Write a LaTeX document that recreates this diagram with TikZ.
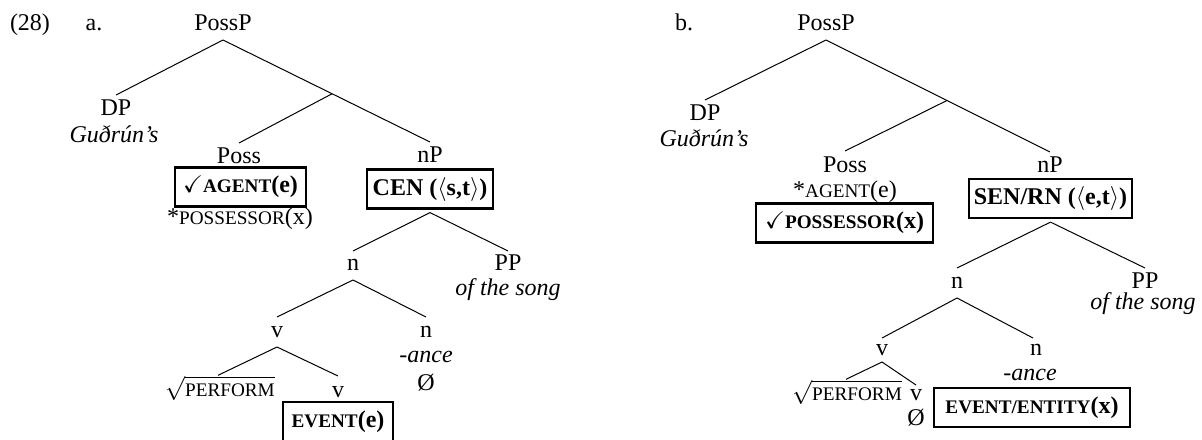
\documentclass[tikz,border=0pt]{standalone}
\usepackage{amssymb}
\usepackage{fontspec}
\setmainfont{Liberation Serif}
\newcommand\tsz{\fontsize{12pt}{14pt}\selectfont}
\newcommand\smc[1]{{\fontsize{9.6pt}{11pt}\selectfont #1}}
\begin{document}
\begin{tikzpicture}[x=0.5pt,y=-0.5pt,
  lab/.style={inner sep=0pt, anchor=base, font=\tsz},
  itlab/.style={inner sep=0pt, anchor=base, font=\tsz\itshape},
  edge/.style={line width=0.5pt},
  fbox/.style={draw, line width=1.1pt, inner sep=0pt, minimum height=19.5pt, font=\tsz\bfseries}]
\useasboundingbox (0,0) rectangle (1202,439);
% ---------- tree a ----------
\node[lab] (n28) at (30,30) {(28)};
\node[lab] (la) at (94,30) {a.};
\node[lab] (PossPa) at (223,30) {PossP};
\node[lab] (DPa) at (116,115) {DP};
\node[itlab] (Gudra) at (114,142) {Guðrún’s};
\node[lab] (Possa) at (239,163) {Poss};
\node[lab] (nPa) at (430,162) {nP};
\node[fbox, minimum width=65.5pt] (agenta) at (240.5,187) {$\checkmark$\smc{AGENT}(e)};
\node[lab] (possessa) at (240,224) {*\smc{POSSESSOR}(x)};
\node[fbox, minimum width=63pt] (cena) at (430,189) {CEN ($\langle$s,t$\rangle$)};
\node[lab] (na) at (353,270) {n};
\node[lab] (PPa) at (508,270) {PP};
\node[itlab] (ofa) at (508,295) {of the song};
\node[lab] (va) at (277,337) {v};
\node[lab] (nna) at (426,337) {n};
\node[itlab] (ancea) at (426,362) {-ance};
\node[lab] (zeroa) at (426,390) {Ø};
\node[lab] (perfa) at (220,396) {$\sqrt{\mbox{\smc{PERFORM}}}$};
\node[lab] (vva) at (338,397) {v};
\node[fbox, minimum width=55pt] (eventa) at (338,421.5) {\smc{EVENT}(e)};
\draw[edge] ([yshift=-5pt]PossPa.base) -- ([yshift=10pt]DPa.base);
\draw[edge] ([yshift=-5pt]PossPa.base) -- coordinate[pos=0.527] (bra) ([yshift=10pt]nPa.base);
\draw[edge] (bra) -- ([yshift=10pt]Possa.base);
\draw[edge] ([yshift=-1.5pt]cena.south) -- ([yshift=9.5pt]na.base);
\draw[edge] ([yshift=-1.5pt]cena.south) -- ([yshift=9.5pt]PPa.base);
\draw[edge] ([yshift=-5pt]na.base) -- ([yshift=10pt]va.base);
\draw[edge] ([yshift=-5pt]na.base) -- ([yshift=10pt]nna.base);
\draw[edge] ([yshift=-5pt]va.base) -- ([xshift=-1pt]perfa.north);
\draw[edge] ([yshift=-5pt]va.base) -- ([yshift=10.5pt]vva.base);
% ---------- tree b ----------
\node[lab] (lb) at (684,30) {b.};
\node[lab] (PossPb) at (826,30) {PossP};
\node[lab] (DPb) at (705,120) {DP};
\node[itlab] (Gudrb) at (704,146) {Guðrún’s};
\node[lab] (Possb) at (845,172) {Poss};
\node[lab] (agentb) at (845,197) {*\smc{AGENT}(e)};
\node[fbox, minimum width=88.5pt] (possessb) at (844.5,223) {$\checkmark$\smc{POSSESSOR}(x)};
\node[lab] (nPb) at (1050,172) {nP};
\node[fbox, minimum width=81.5pt] (senb) at (1050.5,198.5) {SEN/RN ($\langle$e,t$\rangle$)};
\node[lab] (nb) at (957,288) {n};
\node[lab] (PPb) at (1145,288) {PP};
\node[itlab] (ofb) at (1143,309) {of the song};
\node[lab] (vb) at (882,355) {v};
\node[lab] (nnb) at (1036,355) {n};
\node[itlab] (anceb) at (1030,380) {-ance};
\node[lab] (perfb) at (847,400) {$\sqrt{\mbox{\smc{PERFORM}}}$};
\node[lab] (vvb) at (916,400) {v};
\node[lab] (zerob) at (916,425) {Ø};
\node[fbox, minimum width=98pt] (eventb) at (1032,407.5) {\smc{EVENT/ENTITY}(x)};
\draw[edge] ([yshift=-5pt]PossPb.base) -- ([yshift=10pt]DPb.base);
\draw[edge] ([yshift=-5pt]PossPb.base) -- coordinate[pos=0.54] (brb) ([yshift=10pt]nPb.base);
\draw[edge] (brb) -- ([yshift=10.5pt]Possb.base);
\draw[edge] ([yshift=-1.5pt]senb.south) -- ([yshift=10pt]nb.base);
\draw[edge] ([yshift=-1.5pt]senb.south) -- ([yshift=10pt]PPb.base);
\draw[edge] ([yshift=-5pt]nb.base) -- ([yshift=8.5pt]vb.base);
\draw[edge] ([yshift=-5pt]nb.base) -- ([xshift=-1.5pt,yshift=8.5pt]nnb.base);
\draw[edge] ([yshift=-3.5pt]vb.base) -- ([xshift=-0.5pt]perfb.north);
\draw[edge] ([yshift=-3.5pt]vb.base) -- ([yshift=7.5pt]vvb.base);
\end{tikzpicture}
\end{document}
